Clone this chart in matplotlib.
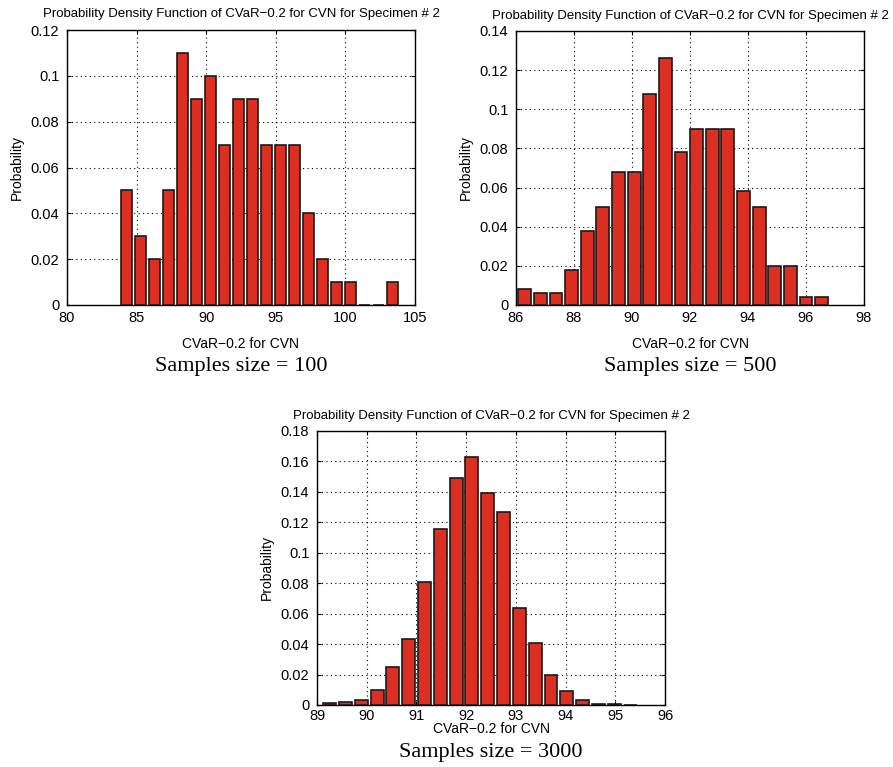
import matplotlib
matplotlib.use("Agg")
import matplotlib.pyplot as plt
import numpy as np

title = "Probability Density Function of CVaR\u22120.2 for CVN for Specimen # 2"
xlabel = "CVaR\u22120.2 for CVN"
ylabel = "Probability"

# Panel 1: sample size 100
centers1 = [84.29 + 1.004 * i for i in range(20)]
values1 = [0.05, 0.03, 0.02, 0.05, 0.11, 0.09, 0.10, 0.07, 0.09, 0.09,
           0.07, 0.07, 0.07, 0.04, 0.02, 0.01, 0.01, 0.0, 0.0, 0.01]
xticks1 = [80, 85, 90, 95, 100, 105]
yticks1 = [0, 0.02, 0.04, 0.06, 0.08, 0.1, 0.12]
yticklabels1 = ["0", "0.02", "0.04", "0.06", "0.08", "0.1", "0.12"]

# Panel 2: sample size 500
centers2 = [86.30 + 0.539 * i for i in range(20)]
values2 = [0.008, 0.006, 0.006, 0.018, 0.038, 0.05, 0.068, 0.068, 0.108, 0.126,
           0.078, 0.09, 0.09, 0.09, 0.058, 0.05, 0.02, 0.02, 0.004, 0.004]
xticks2 = [86, 88, 90, 92, 94, 96, 98]
yticks2 = [0, 0.02, 0.04, 0.06, 0.08, 0.1, 0.12, 0.14]
yticklabels2 = ["0", "0.02", "0.04", "0.06", "0.08", "0.1", "0.12", "0.14"]

# Panel 3: sample size 3000
centers3 = [89.255 + 0.318 * i for i in range(20)]
values3 = [0.001, 0.0017, 0.0033, 0.0101, 0.0252, 0.0433, 0.081, 0.1155, 0.149, 0.163,
           0.1395, 0.127, 0.0639, 0.0409, 0.0197, 0.0092, 0.003, 0.0007, 0.0004, 0.0002]
xticks3 = [89, 90, 91, 92, 93, 94, 95, 96]
yticks3 = [0, 0.02, 0.04, 0.06, 0.08, 0.1, 0.12, 0.14, 0.16, 0.18]
yticklabels3 = ["0", "0.02", "0.04", "0.06", "0.08", "0.1", "0.12", "0.14", "0.16", "0.18"]

captions = ["Samples size = 100", "Samples size = 500", "Samples size = 3000"]

W, H = 893, 767
fig = plt.figure(figsize=(W / 100, H / 100), dpi=100)

def ax_rect(x0, y0, x1, y1):
    return [x0 / W, 1 - y1 / H, (x1 - x0) / W, (y1 - y0) / H]

bar_color = "#dd2e22"
sans = "Liberation Sans"
serif = "Liberation Serif"

panels = [
    (ax_rect(67, 30, 415, 305), centers1, values1, 1.004, (80, 105), (0, 0.12), xticks1, yticks1, yticklabels1, 9.0, 4, (241, 367)),
    (ax_rect(516, 31, 864, 305), centers2, values2, 0.539, (86, 98), (0, 0.14), xticks2, yticks2, yticklabels2, 9.0, 4, (690, 367)),
    (ax_rect(317, 431, 665, 705), centers3, values3, 0.318, (89, 96), (0, 0.18), xticks3, yticks3, yticklabels3, -1.0, 3, (491, 753)),
]

for i, (rect, cx, vals, step, xl, yl, xt, yt, ytl, xlpad, xtpad, cap) in enumerate(panels):
    ax = fig.add_axes(rect)
    ax.bar(cx, vals, width=step * 0.82, color=bar_color, edgecolor="#1a1a1a", linewidth=1.2, zorder=3)
    ax.set_xlim(*xl)
    ax.set_ylim(*yl)
    ax.set_xticks(xt)
    ax.set_xticklabels([str(t) for t in xt], fontsize=10.5, family=sans)
    ax.set_yticks(yt)
    ax.set_yticklabels(ytl, fontsize=10.5, family=sans)
    ax.tick_params(direction="in", top=True, right=True, length=3, width=0.8)
    ax.tick_params(axis="x", pad=xtpad)
    ax.tick_params(axis="y", pad=5.5)
    ax.grid(True, linestyle=(0, (1, 3)), color="black", linewidth=0.8, zorder=0)
    ax.set_axisbelow(True)
    for s in ax.spines.values():
        s.set_linewidth(1.0)
    ax.set_title(title, fontsize=9.5, family=sans, pad=9)
    ax.set_xlabel(xlabel, fontsize=10, family=sans, labelpad=xlpad)
    ax.set_ylabel(ylabel, fontsize=10, family=sans, labelpad=5)
    fig.text(cap[0] / W, 1 - cap[1] / H, captions[i], fontsize=16, family=serif,
             ha="center", va="center")

fig.savefig("out.png", dpi=100)
